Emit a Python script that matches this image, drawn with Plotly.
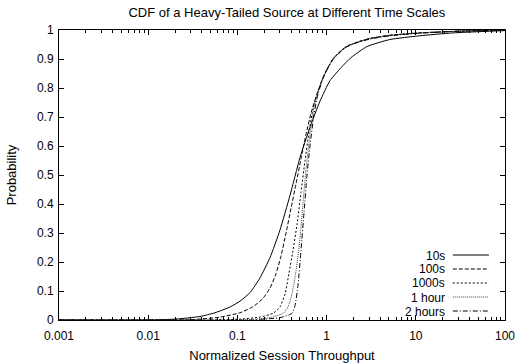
import plotly.graph_objects as go

title = "CDF of a Heavy-Tailed Source at Different Time Scales"
x_label = "Normalized Session Throughput"
y_label = "Probability"

names = ["10s", "100s", "1000s", "1 hour", "2 hours"]

x_10s = [0.001, 0.01, 0.02, 0.038, 0.056, 0.083, 0.107, 0.139, 0.179, 0.232, 0.30, 0.389, 0.503, 0.651,
         0.844, 1.09, 1.45, 1.88, 2.84, 5.1, 11, 26, 100]
p_10s = [0, 0, 0.003, 0.012, 0.025, 0.045, 0.065, 0.095, 0.145, 0.215, 0.31, 0.43, 0.56, 0.665,
         0.755, 0.825, 0.87, 0.905, 0.943, 0.967, 0.98, 0.99, 0.998]

x_100s = [0.001, 0.03, 0.064, 0.107, 0.15, 0.194, 0.232, 0.271, 0.308, 0.351, 0.399, 0.454, 0.516, 0.587,
          0.685, 0.802, 0.912, 1.04, 1.18, 1.41, 1.69, 2.19, 3.07, 5.14, 11.1, 31.3, 100]
p_100s = [0, 0.001, 0.01, 0.025, 0.046, 0.075, 0.11, 0.16, 0.22, 0.30, 0.385, 0.47, 0.555, 0.64,
          0.725, 0.79, 0.835, 0.872, 0.9, 0.925, 0.944, 0.958, 0.971, 0.982, 0.99, 0.996, 1.0]

x_1000s = [0.001, 0.05, 0.107, 0.179, 0.251, 0.30, 0.342, 0.378, 0.42, 0.466, 0.516, 0.573, 0.636, 0.705,
           0.802, 0.912, 1.04, 1.18, 1.41, 1.69, 2.19, 3.07, 5.14, 11.1, 31.3, 100]
p_1000s = [0, 0, 0.003, 0.01, 0.023, 0.045, 0.09, 0.16, 0.24, 0.33, 0.44, 0.55, 0.65, 0.73,
           0.79, 0.837, 0.873, 0.901, 0.926, 0.944, 0.958, 0.971, 0.982, 0.99, 0.996, 1.0]

x_1h = [0.001, 0.1, 0.139, 0.232, 0.325, 0.369, 0.409, 0.454, 0.503, 0.543, 0.587, 0.651, 0.723,
        0.802, 0.912, 1.04, 1.18, 1.41, 1.69, 2.19, 3.07, 5.14, 11.1, 31.3, 100]
p_1h = [0, 0, 0.002, 0.008, 0.023, 0.045, 0.09, 0.17, 0.28, 0.40, 0.52, 0.64, 0.735,
        0.785, 0.834, 0.871, 0.899, 0.924, 0.943, 0.957, 0.97, 0.981, 0.99, 0.996, 1.0]

x_2h = [0.001, 0.15, 0.179, 0.30, 0.409, 0.443, 0.478, 0.516, 0.558, 0.603, 0.651, 0.723, 0.802,
        0.912, 1.04, 1.18, 1.41, 1.69, 2.19, 3.07, 5.14, 11.1, 31.3, 100]
p_2h = [0, 0, 0.002, 0.008, 0.023, 0.05, 0.12, 0.24, 0.37, 0.5, 0.6, 0.71, 0.78,
        0.833, 0.87, 0.898, 0.923, 0.942, 0.956, 0.969, 0.98, 0.989, 0.996, 1.0]

xs = [x_10s, x_100s, x_1000s, x_1h, x_2h]
ps = [p_10s, p_100s, p_1000s, p_1h, p_2h]
dashes = ["solid", "4px,2px", "2px,2px", "1px,1px", "5px,2px,1px,2px"]
colors = ["#000000", "#000000", "#000000", "#444444", "#000000"]

x_ticks = [0.001, 0.01, 0.1, 1, 10, 100]
x_ticktext = ["0.001", "0.01", "0.1", "1", "10", "100"]
x_minor = [m * 10.0 ** e for e in range(-3, 2) for m in range(2, 10)]
y_ticks = [0, 0.1, 0.2, 0.3, 0.4, 0.5, 0.6, 0.7, 0.8, 0.9, 1]
y_ticktext = ["0", "0.1", "0.2", "0.3", "0.4", "0.5", "0.6", "0.7", "0.8", "0.9", "1"]

FONT = "Liberation Sans, Arial, Helvetica, sans-serif"

fig = go.Figure()
for name, x, p, d, c in zip(names, xs, ps, dashes, colors):
    fig.add_trace(go.Scatter(x=x, y=p, mode="lines", name=name, showlegend=False,
                             line=dict(color=c, width=1, dash=d, shape="spline", smoothing=0.5)))

# manual legend (gnuplot style: text right-aligned, line sample to its right)
leg_y = [0.2241, 0.1759, 0.1276, 0.0793, 0.0310]
for name, d, c, yy in zip(names, dashes, colors, leg_y):
    fig.add_annotation(x=0.868, y=yy, xref="paper", yref="paper", text=name, showarrow=False,
                       xanchor="right", yanchor="middle", height=13, borderpad=0,
                       font=dict(size=12, color="#000"))
    fig.add_shape(type="line", xref="paper", yref="paper", x0=0.883, x1=0.964, y0=yy, y1=yy,
                  line=dict(color=c, width=1, dash=d))

fig.update_layout(
    width=516, height=364,
    margin=dict(l=59, r=11, t=30, b=44),
    paper_bgcolor="white", plot_bgcolor="white",
    font=dict(family=FONT, size=12, color="#000"),
    title=dict(text=title, xref="container", x=0.556, xanchor="center", y=0.967, yanchor="middle",
               font=dict(size=13)),
    showlegend=False,
)
fig.update_xaxes(type="log", range=[-3, 2], tickvals=x_ticks, ticktext=x_ticktext,
                 ticks="inside", ticklen=5, tickwidth=1, tickcolor="#000",
                 showline=True, linecolor="#000", linewidth=1, mirror="allticks",
                 showgrid=False, zeroline=False, automargin=False, ticklabelstandoff=5,
                 tickfont=dict(size=12),
                 minor=dict(tickvals=x_minor, ticks="inside", ticklen=3, tickcolor="#000", showgrid=False),
                 title=dict(text=x_label, standoff=8, font=dict(size=13)))
fig.update_yaxes(range=[0, 1], tickvals=y_ticks, ticktext=y_ticktext,
                 ticks="inside", ticklen=5, tickwidth=1, tickcolor="#000",
                 showline=True, linecolor="#000", linewidth=1, mirror="allticks",
                 showgrid=False, zeroline=False, automargin=False, ticklabelstandoff=2,
                 tickfont=dict(size=12),
                 title=dict(text=y_label, standoff=17, font=dict(size=13)))

fig.write_html("out.html")
